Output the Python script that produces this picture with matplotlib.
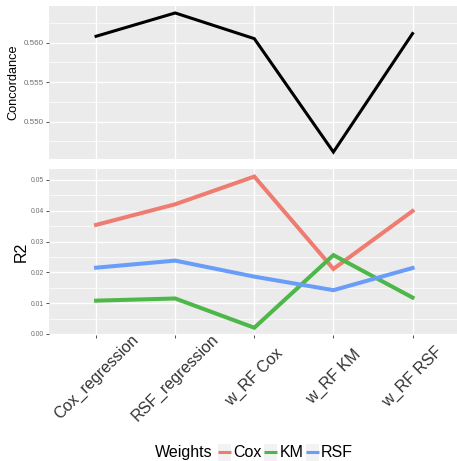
import matplotlib
matplotlib.use("Agg")
import matplotlib.pyplot as plt
from matplotlib.lines import Line2D
from matplotlib.patches import Rectangle
from matplotlib.ticker import MultipleLocator, FormatStrFormatter

# ---- data ----
methods = ["Cox_regression", "RSF_regression", "w_RF Cox", "w_RF KM", "w_RF RSF"]
concordance = [0.5608, 0.56375, 0.5605, 0.54615, 0.56114]

weights = ["Cox", "KM", "RSF"]
r2_cox = [0.0354, 0.0421, 0.0511, 0.0211, 0.0399]
r2_km = [0.0108, 0.0115, 0.0020, 0.0256, 0.0118]
r2_rsf = [0.0215, 0.0238, 0.0186, 0.0142, 0.0214]

colors = {"Cox": "#EE7C70", "KM": "#4EB749", "RSF": "#6A9DF8"}

plt.rcParams["font.family"] = ["Liberation Sans", "DejaVu Sans"]

W, H = 457, 461
fig = plt.figure(figsize=(W / 100, H / 100), dpi=100)

left = 48.6 / W
width = (460 - 48.6) / W
PANEL_BG = "#EBEBEB"


def style(ax, major, minor, tick_fs):
    ax.set_facecolor(PANEL_BG)
    for s in ax.spines.values():
        s.set_visible(False)
    ax.yaxis.set_major_locator(MultipleLocator(major))
    ax.yaxis.set_minor_locator(MultipleLocator(minor))
    ax.grid(which="major", color="white", linewidth=1.0)
    ax.grid(which="minor", axis="y", color="white", linewidth=0.5)
    ax.set_axisbelow(True)
    ax.tick_params(axis="y", which="major", length=2.2, width=0.6, color="#333333",
                   labelsize=tick_fs, labelcolor="#6E6E6E", pad=1)
    ax.tick_params(axis="y", which="minor", length=0)
    ax.set_xlim(-0.6, len(methods) - 0.4)
    ax.margins(y=0.05)


# ---- top panel: concordance ----
ax1 = fig.add_axes([left, 1 - 159 / H, width, 153 / H])
ax1.plot(range(len(methods)), concordance, color="black", linewidth=2.2,
         solid_joinstyle="miter")
style(ax1, 0.005, 0.0025, 5.8)
ax1.yaxis.set_major_formatter(FormatStrFormatter("%.3f"))
ax1.set_xticks(range(len(methods)))
ax1.tick_params(axis="x", length=0, labelbottom=False)
fig.text(13 / W, 1 - 82.5 / H, "Concordance", rotation=90, ha="center",
         va="center", fontsize=9.2, color="black")

# ---- bottom panel: R2 ----
ax2 = fig.add_axes([left, 1 - 335.3 / H, width, (335.3 - 169) / H])
for name, vals in zip(weights, [r2_cox, r2_km, r2_rsf]):
    ax2.plot(range(len(methods)), vals, color=colors[name], linewidth=2.9,
             solid_joinstyle="miter")
style(ax2, 0.01, 0.005, 4.9)
ax2.yaxis.set_major_formatter(FormatStrFormatter("%.2f"))
ax2.set_xticks(range(len(methods)))
ax2.set_xticklabels(methods, rotation=45, ha="center", va="center",
                    rotation_mode="anchor", fontsize=11.5, color="#333333")
ax2.tick_params(axis="x", length=2.2, width=0.6, color="#333333", pad=28)
fig.text(21 / W, 1 - 252 / H, "R2", rotation=90, ha="center", va="center",
         fontsize=11.5, color="black")

# ---- legend (bottom, horizontal) ----
ly = 1 - 452 / H
fig.text(155 / W, ly, "Weights", ha="left", va="center", fontsize=11.5)
keys = [(218, 233, "Cox"), (264, 280, "KM"), (306, 321, "RSF")]
for kx, tx, name in keys:
    fig.add_artist(Rectangle((kx / W, 1 - 460.5 / H), 12.5 / W, 17 / H,
                             transform=fig.transFigure, facecolor="#F2F2F2",
                             edgecolor="none"))
    fig.add_artist(Line2D([kx / W, (kx + 12.5) / W], [ly, ly], color=colors[name],
                          linewidth=2.2, transform=fig.transFigure,
                          solid_capstyle="butt"))
    fig.text(tx / W, ly, name, ha="left", va="center", fontsize=11.5)

fig.savefig("out.png", dpi=100)
